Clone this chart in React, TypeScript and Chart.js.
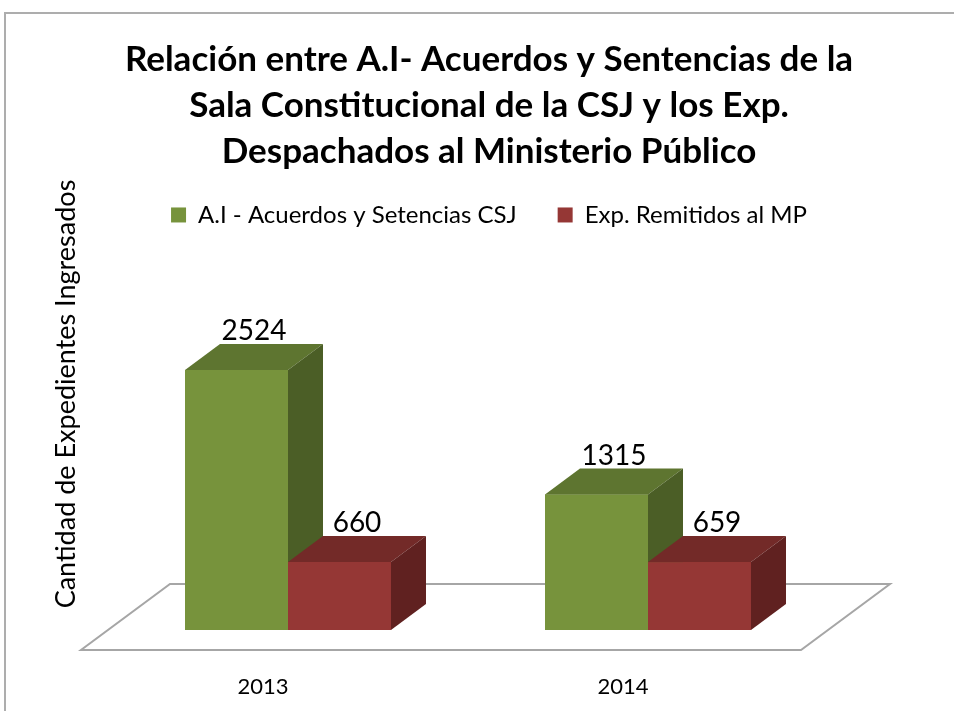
import React, { useEffect, useRef } from 'react';
import { Chart, registerables } from 'chart.js';

Chart.register(...registerables);

const categories = ['2013', '2014'];
const seriesNames = ['A.I - Acuerdos y Setencias CSJ', 'Exp. Remitidos al MP'];
const acuerdos = [2524, 1315];
const remitidos = [660, 659];
const titleLines = [
  'Relación entre A.I- Acuerdos y Sentencias de la',
  'Sala Constitucional de la CSJ y los Exp.',
  'Despachados al Ministerio Público',
];
const yAxisTitle = 'Cantidad de Expedientes Ingresados';

const FONT = 'Lato, "Open Sans", "Liberation Sans", sans-serif';
const frontColors = ['#77933C', '#953735'];
const topColors = ['#5E7530', '#732A28'];
const sideColors = ['#4B5E26', '#602120'];
const DX = 35;
const DY = -26;

const threeD = {
  id: 'threeD',
  beforeDatasetsDraw(chart: any) {
    const ctx = chart.ctx;
    const a = chart.chartArea;
    ctx.save();
    ctx.beginPath();
    ctx.moveTo(a.left - 27, a.bottom + 20);
    ctx.lineTo(a.right - 27, a.bottom + 20);
    ctx.lineTo(a.right + 62, a.bottom - 46);
    ctx.lineTo(a.left + 62, a.bottom - 46);
    ctx.closePath();
    ctx.fillStyle = '#ffffff';
    ctx.fill();
    ctx.strokeStyle = '#A6A6A6';
    ctx.lineWidth = 2;
    ctx.stroke();
    ctx.restore();
  },
  afterDatasetsDraw(chart: any) {
    const ctx = chart.ctx;
    ctx.save();
    const n = chart.data.labels.length;
    for (let i = 0; i < n; i++) {
      for (let d = 0; d < chart.data.datasets.length; d++) {
        const el: any = chart.getDatasetMeta(d).data[i];
        const { x, y, base, width } = el.getProps(['x', 'y', 'base', 'width'], true);
        const l = x - width / 2;
        const r = x + width / 2;
        ctx.fillStyle = frontColors[d];
        ctx.fillRect(l, y, width, base - y);
        ctx.fillStyle = topColors[d];
        ctx.beginPath();
        ctx.moveTo(l, y);
        ctx.lineTo(l + DX, y + DY);
        ctx.lineTo(r + DX, y + DY);
        ctx.lineTo(r, y);
        ctx.closePath();
        ctx.fill();
        ctx.fillStyle = sideColors[d];
        ctx.beginPath();
        ctx.moveTo(r, y);
        ctx.lineTo(r + DX, y + DY);
        ctx.lineTo(r + DX, base + DY);
        ctx.lineTo(r, base);
        ctx.closePath();
        ctx.fill();
      }
    }
    // value labels
    ctx.fillStyle = '#000';
    ctx.font = `28px ${FONT}`;
    ctx.textAlign = 'center';
    ctx.textBaseline = 'alphabetic';
    for (let d = 0; d < chart.data.datasets.length; d++) {
      const meta = chart.getDatasetMeta(d);
      meta.data.forEach((el: any, i: number) => {
        const { x, y } = el.getProps(['x', 'y'], true);
        ctx.fillText(String(chart.data.datasets[d].data[i]), x + DX / 2, y + DY - 4);
      });
    }
    ctx.restore();
  },
  afterDraw(chart: any) {
    const ctx = chart.ctx;
    ctx.save();
    // y axis title
    ctx.translate(66, 394);
    ctx.rotate(-Math.PI / 2);
    ctx.fillStyle = '#000';
    ctx.font = `27px ${FONT}`;
    ctx.textAlign = 'center';
    ctx.textBaseline = 'middle';
    ctx.fillText(yAxisTitle, 0, 0);
    ctx.restore();
    // outer border
    ctx.save();
    ctx.strokeStyle = '#ADADAD';
    ctx.lineWidth = 2;
    ctx.beginPath();
    ctx.moveTo(5, chart.height + 5);
    ctx.lineTo(5, 13);
    ctx.lineTo(chart.width + 5, 13);
    ctx.stroke();
    ctx.restore();
  },
};

export default function App() {
  const ref = useRef<HTMLCanvasElement>(null);
  useEffect(() => {
    document.body.style.margin = '0';
    const chart = new Chart(ref.current as HTMLCanvasElement, {
      type: 'bar',
      data: {
        labels: categories,
        datasets: [
          { label: seriesNames[0], data: acuerdos, backgroundColor: frontColors[0], borderWidth: 0 },
          { label: seriesNames[1], data: remitidos, backgroundColor: frontColors[1], borderWidth: 0 },
        ],
      },
      options: {
        responsive: false,
        animation: false,
        devicePixelRatio: 1,
        barPercentage: 1,
        categoryPercentage: 0.5722,
        layout: { padding: { top: 27, left: 24, right: 0, bottom: 0 } },
        plugins: {
          tooltip: { enabled: false },
          title: {
            display: true,
            text: titleLines,
            color: '#000',
            font: { family: FONT, size: 35, weight: 'bold', lineHeight: 1.314 },
            padding: { top: 10, bottom: -13 },
          },
          legend: {
            position: 'top',
            labels: {
              color: '#000',
              font: { family: FONT, size: 24 },
              boxWidth: 15,
              boxHeight: 15,
              padding: 41,
            },
          },
        },
        scales: {
          x: {
            grid: { display: false, drawTicks: false },
            border: { display: false },
            ticks: { color: '#000', font: { family: FONT, size: 22 }, padding: 44, labelOffset: -25 },
            afterFit: (s: any) => { s.height = 81; },
          },
          y: {
            min: 0,
            max: 3815,
            grid: { display: false, drawTicks: false },
            border: { display: false },
            ticks: { display: false },
            afterFit: (s: any) => { s.width = 84; },
          },
          yR: {
            type: 'linear',
            position: 'right',
            grid: { display: false, drawTicks: false },
            border: { display: false },
            ticks: { display: false },
            afterFit: (s: any) => { s.width = 126; },
          },
        },
      } as any,
      plugins: [threeD],
    });
    return () => chart.destroy();
  }, []);
  return (
    <div style={{ width: 954, height: 711 }}>
      <canvas ref={ref} width={954} height={711} style={{ display: 'block' }} />
    </div>
  );
}
